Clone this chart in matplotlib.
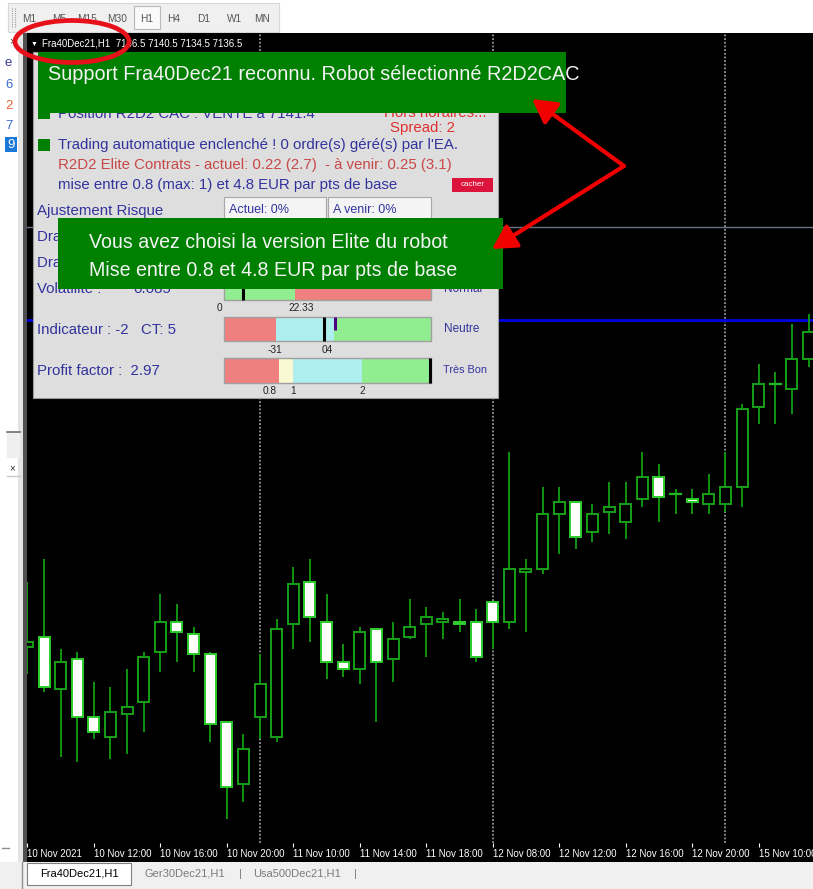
import numpy as np
import matplotlib
matplotlib.use("Agg")
import matplotlib.pyplot as plt
from matplotlib.patches import Rectangle, Ellipse, FancyArrowPatch

plt.rcParams['font.family'] = ['Liberation Sans', 'DejaVu Sans']

# Fra40Dec21 H1 bars, 10 Nov 2021 08:00 -> 15 Nov 2021 13:00
opens = [7076.0, 7078.0, 7067.5, 7073.5, 7062.0, 7058.0, 7062.5, 7065.0, 7075.0, 7081.0,
         7078.5, 7074.5, 7061.0, 7048.5, 7062.0, 7058.0, 7080.5, 7089.0, 7081.0, 7073.0,
         7071.5, 7079.5, 7073.5, 7078.0, 7080.5, 7081.0, 7081.0, 7081.0, 7085.0, 7081.0,
         7091.0, 7091.5, 7102.5, 7105.0, 7099.0, 7103.0, 7101.0, 7105.5, 7110.0, 7106.5,
         7105.5, 7104.5, 7104.5, 7108.0, 7124.0, 7128.5, 7127.5, 7133.5]
highs = [7089.0, 7093.5, 7075.5, 7075.0, 7069.0, 7068.0, 7071.5, 7075.0, 7086.5, 7084.5,
         7080.0, 7075.0, 7061.0, 7058.5, 7074.5, 7081.5, 7092.0, 7093.5, 7086.5, 7076.5,
         7080.0, 7079.5, 7081.0, 7085.5, 7084.0, 7083.0, 7085.5, 7083.5, 7085.0, 7115.0,
         7093.5, 7108.0, 7108.0, 7105.0, 7104.5, 7109.0, 7109.0, 7115.0, 7112.5, 7107.5,
         7107.5, 7110.5, 7115.0, 7124.5, 7132.5, 7131.0, 7140.5, 7142.5]
lows = [7070.5, 7067.0, 7054.0, 7053.0, 7057.5, 7053.5, 7054.5, 7059.0, 7071.0, 7073.0,
        7071.0, 7057.0, 7041.5, 7045.0, 7057.5, 7057.0, 7075.5, 7077.0, 7069.5, 7070.0,
        7068.5, 7061.0, 7069.0, 7077.5, 7074.0, 7077.5, 7079.0, 7073.0, 7075.5, 7079.5,
        7079.0, 7090.5, 7094.5, 7095.5, 7097.0, 7098.5, 7097.5, 7104.0, 7101.0, 7102.5,
        7102.5, 7102.5, 7103.0, 7104.0, 7120.5, 7120.5, 7122.5, 7132.0]
closes = [7077.0, 7068.0, 7073.0, 7062.0, 7059.0, 7063.0, 7064.0, 7074.0, 7081.0, 7079.0,
          7074.5, 7060.5, 7048.0, 7055.5, 7068.5, 7079.5, 7088.5, 7082.0, 7073.0, 7071.5,
          7079.0, 7073.0, 7077.5, 7080.0, 7082.0, 7081.5, 7080.5, 7074.0, 7081.0, 7091.5,
          7091.5, 7102.5, 7105.0, 7098.0, 7102.5, 7104.0, 7104.5, 7110.0, 7106.0, 7106.5,
          7105.0, 7106.5, 7108.0, 7123.5, 7128.5, 7128.5, 7133.5, 7139.0]

days = ['10 Nov', '11 Nov', '12 Nov', '15 Nov']
session_hours = list(range(8, 22))
bar_times = [(d, h) for d in days for h in session_hours][:len(opens)]

position_price = 7141.4
order_level = 7160.0

W, H = 813, 889
fig = plt.figure(figsize=(W / 100, H / 100), dpi=100)


def px_axes(z):
    a = fig.add_axes([0, 0, 1, 1], zorder=z)
    a.set_xlim(0, W)
    a.set_ylim(H, 0)
    a.axis('off')
    a.patch.set_alpha(0)
    return a


def box(a, x0, y0, x1, y1, fc, ec='none', lw=0, z=1):
    a.add_patch(Rectangle((x0, y0), x1 - x0, y1 - y0, facecolor=fc,
                          edgecolor=ec, linewidth=lw, zorder=z))


def txt(a, x, y, s, size, color, ha='left', z=5, **kw):
    a.text(x, y, s, fontsize=size, color=color, ha=ha, va='center', zorder=z, **kw)


# ---- window chrome (background) ----
bg = px_axes(0)
box(bg, 0, 0, W, H, 'white')
box(bg, 8, 3, 279, 32, '#f0f0f0', '#d8d8d8', 0.8)
bg.plot([12, 12], [8, 28], color='#a0a0a0', lw=0.8, ls=(0, (1, 1)))
bg.plot([15, 15], [8, 28], color='#a0a0a0', lw=0.8, ls=(0, (1, 1)))
box(bg, 134, 6, 160, 29, '#fafafa', '#b8b8b8', 0.8)
periods = ['M1', 'M5', 'M15', 'M30', 'H1', 'H4', 'D1', 'W1', 'MN']
period_x = [29, 59, 87, 117, 147, 174, 204, 235, 262]
for p, x in zip(periods, period_x):
    txt(bg, x, 19, p, 7.3, '#555555', ha='center')

# left strip
box(bg, 0, 33, 22, 862, '#ffffff')
box(bg, 18, 33, 23, 862, '#e4e4e4')
box(bg, 23, 33, 27, 862, '#505050')
txt(bg, 12, 41, '×', 8, '#333333', ha='center')
txt(bg, 8, 63, 'e', 9.5, '#3a3a9a', ha='center')
txt(bg, 9, 85, '6', 9.5, '#3a6ad0', ha='center')
txt(bg, 9, 106, '2', 9.5, '#e8602c', ha='center')
txt(bg, 9, 126, '7', 9.5, '#3a6ad0', ha='center')
box(bg, 5, 137, 17, 152, '#1a78d8')
txt(bg, 11, 145, '9', 9.5, 'white', ha='center')
box(bg, 7, 432, 20, 458, '#efefef')
bg.plot([7, 20], [432, 432], color='#707070', lw=1.2)
txt(bg, 12, 468, '×', 7, '#333333', ha='center')
bg.plot([7, 20], [476, 476], color='#c8c8c8', lw=1)
bg.plot([2, 9], [848, 848], color='#909090', lw=1)

# black chart window incl. time scale
box(bg, 27, 33, W, 862, 'black')

# bottom tab bar
box(bg, 0, 862, W, H, '#f0f0f0')
bg.plot([22, 22], [862, 889], color='#909090', lw=1)
box(bg, 27, 863, 131, 885, 'white', '#808080', 0.8)
txt(bg, 79, 874, 'Fra40Dec21,H1', 8, 'black', ha='center')
txt(bg, 185, 874, 'Ger30Dec21,H1', 8, '#7a7a7a', ha='center')
txt(bg, 240, 874, '|', 8, '#7a7a7a', ha='center')
txt(bg, 297, 874, 'Usa500Dec21,H1', 8, '#7a7a7a', ha='center')
txt(bg, 355, 874, '|', 8, '#7a7a7a', ha='center')

# ---- candlestick chart ----
x0_px, x1_px, y0_px, y1_px = 27, 813, 33, 843
ax = fig.add_axes([x0_px / W, 1 - y1_px / H, (x1_px - x0_px) / W, (y1_px - y0_px) / H], zorder=1)
ax.set_facecolor('black')
for s in ax.spines.values():
    s.set_visible(False)

n = len(opens)
idx = np.arange(n)
body_w = 0.66
wick_c = '#0f940f'
for i in idx:
    o, h, l, c = opens[i], highs[i], lows[i], closes[i]
    ax.plot([i, i], [l, h], color=wick_c, lw=1.4, zorder=2, solid_capstyle='butt')
    lo, hi = min(o, c), max(o, c)
    if hi - lo < 0.01:
        ax.plot([i - body_w / 2, i + body_w / 2], [o, o], color='#22b822', lw=1.6, zorder=3)
    elif c > o:
        ax.add_patch(Rectangle((i - body_w / 2, lo), body_w, hi - lo, facecolor='black',
                               edgecolor='#16a016', lw=1.4, zorder=3))
    else:
        ax.add_patch(Rectangle((i - body_w / 2, lo), body_w, hi - lo, facecolor='white',
                               edgecolor='#2ccc2c', lw=1.4, zorder=3))

# day separators
for i in idx[1:]:
    if bar_times[i][0] != bar_times[i - 1][0]:
        ax.axvline(i, color='#b0b0b0', lw=1.1, ls=(0, (1.2, 1.2)), zorder=1)

ax.axhline(position_price, color='#0000e6', lw=2.0, zorder=1)
ax.axhline(order_level, color='#6a7282', lw=1.0, zorder=1)

ax.set_xlim(-0.024, 47.27)
ax.set_ylim(7036.7, 7198.7)
ax.set_yticks([])
tick_idx = idx[::4]
tick_lbl = []
for i in tick_idx:
    d, h = bar_times[i]
    tick_lbl.append('10 Nov 2021' if i == 0 else '%s %02d:00' % (d, h))
ax.set_xticks(tick_idx)
ax.set_xticklabels(tick_lbl)
ax.tick_params(axis='x', colors='white', labelsize=7.0, length=3, width=0.8, pad=1.5)
for lb in ax.get_xticklabels():
    lb.set_ha('left')

# ---- overlay: chart header, EA panel, annotations ----
ov = px_axes(3)
txt(ov, 31, 44, '▼', 5, 'white')
txt(ov, 42, 44, 'Fra40Dec21,H1  7136.5 7140.5 7134.5 7136.5', 7.0, 'white')

blue = '#33339e'
red = '#e03030'
fs = 10.8
box(ov, 33, 52, 498, 398, '#dedede', '#9a9a9a', 0.8, z=2)
box(ov, 38, 108, 50, 119, '#008000', z=3)
txt(ov, 58, 114, 'Position R2D2 CAC : VENTE à 7141.4', fs, blue, z=3)
txt(ov, 486, 113, 'Hors horaires...', fs, red, ha='right', z=3)
txt(ov, 422, 128, 'Spread: 2', fs, red, ha='center', z=3)
box(ov, 38, 139, 50, 151, '#008000', z=3)
txt(ov, 58, 145, "Trading automatique enclenché ! 0 ordre(s) géré(s) par l'EA.", fs, blue, z=3)
txt(ov, 58, 165, 'R2D2 Elite Contrats - actuel: 0.22 (2.7)  - à venir: 0.25 (3.1)', fs, '#c84848', z=3)
txt(ov, 58, 185, 'mise entre 0.8 (max: 1) et 4.8 EUR par pts de base', fs, blue, z=3)
box(ov, 452, 178, 493, 192, '#dc143c', z=3)
txt(ov, 472.5, 185, 'cacher', 5.8, 'white', ha='center', z=4)

txt(ov, 37, 211, 'Ajustement Risque', fs, blue, z=3)
box(ov, 224, 197, 326, 222, '#f4f4f4', '#a8a8a8', 0.8, z=3)
box(ov, 328, 197, 431, 222, '#f4f4f4', '#a8a8a8', 0.8, z=3)
txt(ov, 229, 210, 'Actuel: 0%', 9, blue, z=4)
txt(ov, 333, 210, 'A venir: 0%', 9, blue, z=4)
txt(ov, 37, 237, 'Drawdown max :', fs, blue, z=3)
txt(ov, 37, 263, 'Drawdown actuel :', fs, blue, z=3)
txt(ov, 37, 289, 'Volatilité :', fs, blue, z=3)
txt(ov, 133, 289, '0.085', fs, blue, z=3)
txt(ov, 444, 289, 'Normal', 8.5, blue, z=3)

bar_l, bar_r = 224, 431
gauge_rows = [
    # (y top, y bottom, segments [(x from, x to, colour)], markers [(x, colour, y0, y1)])
    (279, 300, [(224, 295, '#90ee90'), (295, 431, '#f08080')], [(243, 'black', 280, 300)]),
    (317, 341, [(224, 276, '#f08080'), (276, 334, '#afeeee'), (334, 431, '#90ee90')],
     [(324, 'black', 317, 341), (335, '#4b0082', 317, 330)]),
    (358, 383, [(224, 279, '#f08080'), (279, 293, '#fafad2'), (293, 362, '#afeeee'),
                (362, 431, '#90ee90')], [(430, 'black', 358, 383)]),
]
for yt, yb, segs, marks in gauge_rows:
    for xa, xb, col in segs:
        box(ov, xa, yt, xb, yb, col, z=3)
    box(ov, bar_l, yt, bar_r, yb, 'none', '#a0a0a0', 1.0, z=4)
    for xm, col, ya, yb2 in marks:
        ov.plot([xm, xm], [ya, yb2], color=col, lw=2.2, zorder=5, solid_capstyle='butt')

gs = 7.3
txt(ov, 219, 308, '0', gs, '#222222', ha='center', z=4)
txt(ov, 301, 308, '22.33', gs, '#222222', ha='center', z=4)
txt(ov, 37, 330, 'Indicateur : -2   CT: 5', fs, blue, z=3)
txt(ov, 275, 350, '-31', gs, '#222222', ha='center', z=4)
txt(ov, 327, 350, '04', gs, '#222222', ha='center', z=4)
txt(ov, 444, 329, 'Neutre', 8.5, blue, z=3)
txt(ov, 37, 371, 'Profit factor :  2.97', fs, blue, z=3)
txt(ov, 270, 391, '0.8', gs, '#222222', ha='center', z=4)
txt(ov, 293, 391, '1', gs, '#222222', ha='center', z=4)
txt(ov, 362, 391, '2', gs, '#222222', ha='center', z=4)
txt(ov, 443, 370, 'Très Bon', 7.8, blue, z=3)

# green notification banners
box(ov, 38, 52, 566, 113, '#008000', z=6)
txt(ov, 48, 75, 'Support Fra40Dec21 reconnu. Robot sélectionné R2D2CAC', 14.3, '#f4f4f4', z=7)
box(ov, 58, 218, 503, 289, '#008000', z=6)
txt(ov, 89, 242, 'Vous avez choisi la version Elite du robot', 14.1, '#f4f4f4', z=7)
txt(ov, 89, 271, 'Mise entre 0.8 et 4.8 EUR par pts de base', 14.1, '#f4f4f4', z=7)

# red annotations
ov.add_patch(Ellipse((72, 41.5), 114, 42, fill=False, edgecolor='#e8101a', lw=3.4, zorder=8))
for tip in [(532, 99), (492, 249)]:
    ov.add_patch(FancyArrowPatch((624, 166), tip, arrowstyle='-|>,head_length=0.9,head_width=0.5',
                                 mutation_scale=16, color='#f00000', lw=3, shrinkA=0, shrinkB=0,
                                 zorder=8))

fig.savefig('out.png', dpi=100)
